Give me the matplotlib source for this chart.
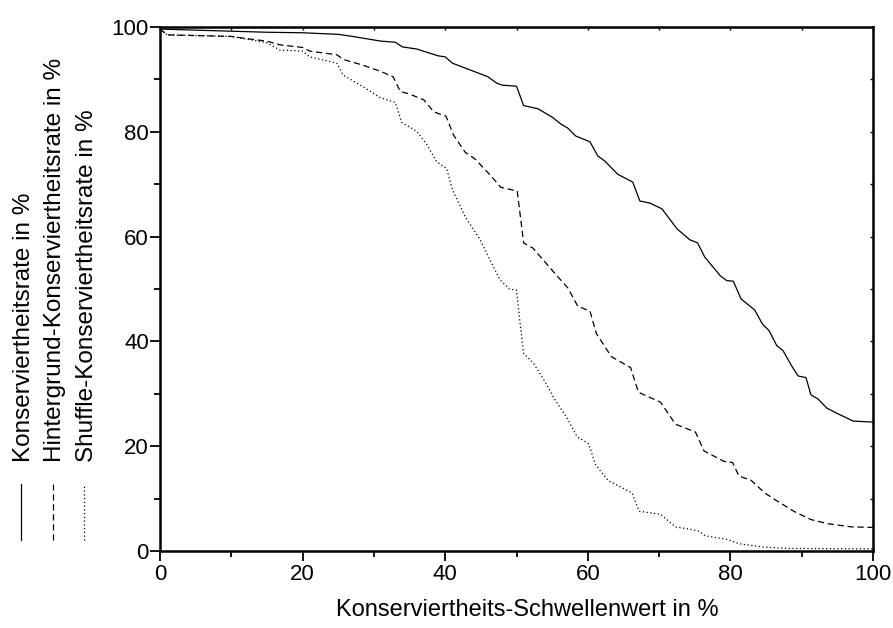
import matplotlib
matplotlib.use("Agg")
import matplotlib.pyplot as plt
from matplotlib.lines import Line2D

plt.rcParams['font.family'] = ['Liberation Sans', 'DejaVu Sans']

# Konserviertheitsrate (solid)
kons_x = [0, 5, 10, 15, 20, 25, 27, 31, 33, 34, 36, 39, 40, 41, 43.5, 46, 47.2, 48, 50,
          51, 53, 55, 56.2, 57.2, 58.3, 60.3, 61.4, 62.4, 64.2, 66.3, 67.3, 68.7, 70.4,
          72.5, 74.3, 75.4, 76.4, 78.6, 79.5, 80.4, 81.5, 83.4, 84.5, 85.4, 86.5, 87.4,
          88.6, 89.5, 90.6, 91.3, 92.3, 93.5, 94.9, 96, 97.2, 100]
kons_y = [99.6, 99.4, 99.2, 99.0, 98.9, 98.6, 98.2, 97.3, 97.1, 96.2, 95.8, 94.5, 94.3,
          93.1, 91.8, 90.5, 89.3, 88.9, 88.7, 85.0, 84.4, 82.8, 81.5, 80.7, 79.2, 78.1,
          75.4, 74.4, 71.9, 70.4, 66.8, 66.4, 65.3, 61.5, 59.4, 58.8, 56.1, 52.5, 51.6,
          51.5, 48.1, 46.0, 43.3, 42.1, 39.2, 38.2, 35.3, 33.4, 33.1, 29.8, 29.0, 27.3,
          26.3, 25.6, 24.8, 24.6]

# Hintergrund-Konserviertheitsrate (dashed)
hint_x = [0, 1, 10, 12.6, 15, 16.8, 20, 21, 24.8, 25.7, 28.5, 31, 32.7, 33.7, 35, 37,
          38.4, 40.1, 41.2, 42.8, 44.2, 46.4, 47.8, 50.1, 51.0, 52.3, 53.9, 55.3, 57.2,
          58.6, 60.3, 61.2, 63.3, 66, 67.1, 70.2, 72.3, 75.1, 76.3, 79.1, 80.3, 81.2,
          82.9, 84.8, 86.6, 89, 91.3, 93.7, 97, 100]
hint_y = [99.6, 98.5, 98.2, 97.7, 97.3, 96.6, 96.1, 95.4, 94.7, 93.8, 92.7, 91.5, 90.5,
          87.7, 87.2, 86.1, 83.8, 83.0, 79.3, 76.1, 74.8, 71.6, 69.4, 68.7, 58.8, 57.8,
          55.3, 53.1, 50.2, 46.7, 45.8, 41.5, 37.1, 35.0, 30.3, 28.4, 24.2, 22.7, 19.1,
          17.1, 16.9, 14.3, 13.5, 11.1, 9.5, 7.5, 6.0, 5.2, 4.6, 4.5]

# Shuffle-Konserviertheitsrate (dotted)
shuf_x = [0, 1, 10, 15, 16.8, 20, 21, 24.8, 25.7, 28.5, 30.9, 33, 33.9, 36, 37.4, 38.8,
          40.2, 41, 42.8, 44.9, 46.3, 47.7, 49, 50, 50.5, 51, 52.4, 54, 55.4, 57, 58.5,
          60.1, 61.1, 62.9, 66.2, 67.2, 70.2, 72.3, 75.4, 76.5, 79.6, 81.2, 84.3, 87.6, 100]
shuf_y = [99.6, 98.5, 98.2, 97.0, 95.6, 95.4, 94.3, 93.1, 90.8, 88.6, 86.5, 85.6, 81.8,
          80.1, 77.6, 74.3, 73.0, 69.0, 63.8, 59.4, 55.5, 51.7, 50.0, 49.8, 43.5, 37.7,
          35.8, 32.3, 28.8, 25.6, 21.8, 20.5, 16.4, 13.4, 11.1, 7.6, 7.0, 4.6, 3.9, 2.9,
          2.2, 1.4, 0.8, 0.5, 0.4]

labels = ['Konserviertheitsrate in %',
          'Hintergrund-Konserviertheitsrate in %',
          'Shuffle-Konserviertheitsrate in %']
styles = ['-', (0, (5, 3)), (0, (1, 2))]

fig = plt.figure(figsize=(8.93, 6.28), dpi=100)
ax = fig.add_axes([0.1792, 0.1226, 0.7984, 0.8344])

for xs, ys, ls in zip([kons_x, hint_x, shuf_x], [kons_y, hint_y, shuf_y], styles):
    ax.plot(xs, ys, color='black', linestyle=ls, linewidth=0.9)

ax.set_xlim(0, 100)
ax.set_ylim(0, 100)
ax.set_xticks(range(0, 101, 20))
ax.set_yticks(range(0, 101, 20))
ax.set_xticks(range(10, 100, 20), minor=True)
ax.set_yticks(range(10, 100, 20), minor=True)
ax.tick_params(which='major', direction='out', length=7, width=1.3, labelsize=16, pad=2)
ax.tick_params(which='minor', direction='out', length=4.5, width=1.3)
ax.tick_params(axis='y', pad=1)
for s in ax.spines.values():
    s.set_linewidth(1.8)

# small inward ticks on top and right
top = ax.secondary_xaxis('top')
top.set_xticks(range(0, 101, 10))
top.tick_params(direction='in', length=2.5, width=1, labeltop=False)
right = ax.secondary_yaxis('right')
right.set_yticks(range(0, 101, 10))
right.tick_params(direction='in', length=2.5, width=1, labelright=False)

ax.set_xlabel('Konserviertheits-Schwellenwert in %', fontsize=17)
ax.xaxis.set_label_coords(0.515, -0.092)

# vertical legend on the left
leg_x = [0.025, 0.060, 0.095]
for lx, lab, ls in zip(leg_x, labels, styles):
    fig.add_artist(Line2D([lx - 0.001, lx - 0.001], [0.14, 0.23], color='black',
                          linestyle=ls, linewidth=0.9, transform=fig.transFigure))
    fig.text(lx + 0.002, 0.265, lab, rotation=90, ha='center', va='bottom', fontsize=17.5)

fig.savefig('out.png', dpi=100)
